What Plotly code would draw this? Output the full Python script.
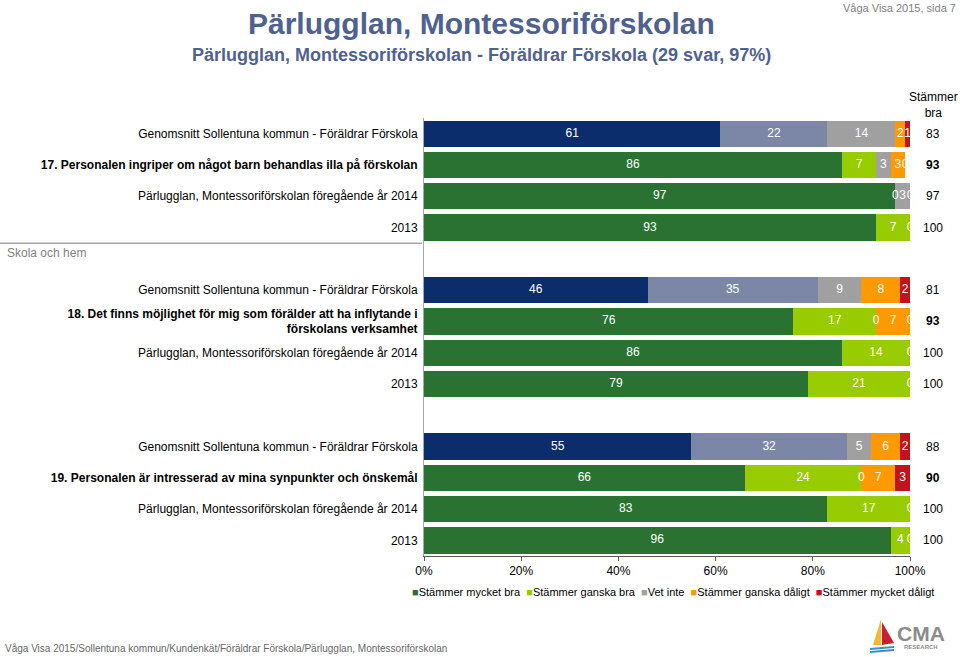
import plotly.graph_objects as go

# ---------------- data ----------------
row_keys = ["q17_avg", "q17_cur", "q17_2014", "q17_2013",
            "q18_avg", "q18_cur", "q18_2014", "q18_2013",
            "q19_avg", "q19_cur", "q19_2014", "q19_2013"]
row_labels = [
    "Genomsnitt Sollentuna kommun - Föräldrar Förskola",
    "<b>17. Personalen ingriper om något barn behandlas illa på förskolan</b>",
    "Pärlugglan, Montessoriförskolan föregående år 2014",
    "2013",
    "Genomsnitt Sollentuna kommun - Föräldrar Förskola",
    "<b>18. Det finns möjlighet för mig som förälder att ha inflytande i<br>förskolans verksamhet</b>",
    "Pärlugglan, Montessoriförskolan föregående år 2014",
    "2013",
    "Genomsnitt Sollentuna kommun - Föräldrar Förskola",
    "<b>19. Personalen är intresserad av mina synpunkter och önskemål</b>",
    "Pärlugglan, Montessoriförskolan föregående år 2014",
    "2013",
]
avg_rows = [0, 4, 8]
cur_rows = [1, 5, 9]
gap_after = {3: "gap1", 7: "gap2"}

series_names = ["Stämmer mycket bra", "Stämmer ganska bra", "Vet inte",
                "Stämmer ganska dåligt", "Stämmer mycket dåligt"]
mycket_bra = [61, 86, 97, 93, 46, 76, 86, 79, 55, 66, 83, 96]
ganska_bra = [22, 7, 0, 7, 35, 17, 14, 21, 32, 24, 17, 4]
vet_inte = [14, 3, 3, 0, 9, 0, 0, 0, 5, 0, 0, 0]
ganska_daligt = [2, 3, 0, None, 8, 7, None, None, 6, 7, None, None]
mycket_daligt = [1, 0, None, None, 2, 0, None, None, 2, 3, None, None]
stammer_bra = [83, 93, 97, 100, 81, 93, 100, 100, 88, 90, 100, 100]
x_ticks = [0, 20, 40, 60, 80, 100]
x_tick_labels = ["0%", "20%", "40%", "60%", "80%", "100%"]

series = [mycket_bra, ganska_bra, vet_inte, ganska_daligt, mycket_daligt]
colors = ["#2a7231", "#99cc00", "#a0a0a0", "#ff9900", "#c0141c"]
avg_colors = ["#0b2d6b", "#7c87a8", "#a0a0a0", "#ff9900", "#c0141c"]

# ---------------- layout geometry ----------------
W, H = 960, 657
L, R, T, B = 424, 50, 118, 101
pw, ph = W - L - R, H - T - B


def px(x):
    return (x - L) / pw


def py(y):
    return (H - B - y) / ph


FONT = "Liberation Sans, Arial, sans-serif"

category_order = []
for i, k in enumerate(row_keys):
    category_order.append(k)
    if i in gap_after:
        category_order.append(gap_after[i])
tick_text = []
for c in category_order:
    if c in row_keys:
        tick_text.append(row_labels[row_keys.index(c)])
    else:
        tick_text.append("")

fig = go.Figure()

school_idx = [i for i in range(len(row_keys)) if i not in avg_rows]
for s, (name, vals) in enumerate(zip(series_names, series)):
    fig.add_trace(go.Bar(
        y=[row_keys[i] for i in school_idx],
        x=[vals[i] if vals[i] is not None else 0 for i in school_idx],
        orientation="h", name=name, marker=dict(color=colors[s], line_width=0),
        showlegend=False, hoverinfo="x+name",
    ))
for s, (name, vals) in enumerate(zip(series_names, series)):
    fig.add_trace(go.Bar(
        y=[row_keys[i] for i in avg_rows],
        x=[vals[i] if vals[i] is not None else 0 for i in avg_rows],
        orientation="h", name=name, marker=dict(color=avg_colors[s], line_width=0),
        showlegend=False, hoverinfo="x+name",
    ))

# value labels at segment centres
lx, ly, lt = [], [], []
for i, k in enumerate(row_keys):
    cum = 0
    for vals in series:
        v = vals[i]
        if v is None:
            continue
        lx.append(cum + v / 2)
        ly.append(k)
        lt.append(str(v))
        cum += v
fig.add_trace(go.Scatter(
    x=lx, y=ly, text=lt, mode="text", showlegend=False, hoverinfo="skip",
    textfont=dict(color="white", size=12, family=FONT), cliponaxis=False,
))

annotations = []
# Stämmer bra column
annotations.append(dict(xref="paper", yref="paper", x=px(933), y=py(105),
                        text="Stämmer<br>bra", showarrow=False,
                        font=dict(size=12, color="#000", family=FONT),
                        xanchor="center", yanchor="middle"))
for i, k in enumerate(row_keys):
    txt = str(stammer_bra[i])
    if i in cur_rows:
        txt = "<b>" + txt + "</b>"
    annotations.append(dict(xref="paper", yref="y", x=px(933), y=k, text=txt,
                            showarrow=False, xanchor="center",
                            font=dict(size=12, color="#000", family=FONT)))

# group label
annotations.append(dict(xref="paper", yref="y", x=px(5), y=3.5, yshift=-1,
                        text="Skola och hem", showarrow=False,
                        xanchor="left", yanchor="top",
                        font=dict(size=12, color="#7f7f7f", family=FONT)))

# titles
annotations += [
    dict(xref="paper", yref="paper", x=px(481), y=py(24),
         text="<b>Pärlugglan, Montessoriförskolan</b>", showarrow=False,
         font=dict(size=30, color="#4f6190", family=FONT), xanchor="center", yanchor="middle"),
    dict(xref="paper", yref="paper", x=px(481), y=py(55),
         text="<b>Pärlugglan, Montessoriförskolan - Föräldrar Förskola (29 svar, 97%)</b>",
         showarrow=False, font=dict(size=18, color="#4f6190", family=FONT),
         xanchor="center", yanchor="middle"),
    dict(xref="paper", yref="paper", x=px(958), y=py(8),
         text="Våga Visa 2015, sida 7", showarrow=False,
         font=dict(size=11, color="#808080", family=FONT), xanchor="right", yanchor="middle"),
    dict(xref="paper", yref="paper", x=px(3), y=py(648),
         text="Våga Visa 2015/Sollentuna kommun/Kundenkät/Föräldrar Förskola/Pärlugglan, Montessoriförskolan",
         showarrow=False, font=dict(size=10, color="#666666", family=FONT),
         xanchor="left", yanchor="middle"),
]

# legend (compact, Excel-like)
leg_parts = []
for name, c in zip(series_names, colors):
    leg_parts.append(f"<span style='color:{c}'>■</span>{name}")
annotations.append(dict(xref="paper", yref="paper", x=px(673), y=py(592),
                        text="  ".join(leg_parts), showarrow=False,
                        font=dict(size=11, color="#000", family=FONT),
                        xanchor="center", yanchor="middle"))

# CMA logo
annotations += [
    dict(xref="paper", yref="paper", x=px(921), y=py(633), text="<b>CMA</b>",
         showarrow=False, font=dict(size=21, color="#8c8c8c", family=FONT),
         xanchor="center", yanchor="middle"),
    dict(xref="paper", yref="paper", x=px(921), y=py(647), text="<b>RESEARCH</b>",
         showarrow=False, font=dict(size=6, color="#8c8c8c", family=FONT),
         xanchor="center", yanchor="middle"),
]


def path(pts):
    return "M " + " L ".join(f"{px(a)},{py(b)}" for a, b in pts) + " Z"


shapes = [
    dict(type="line", xref="paper", yref="y", x0=px(0), x1=px(L - 2), y0=3.5, y1=3.5,
         line=dict(color="#a6a6a6", width=1.5)),
    dict(type="path", xref="paper", yref="paper",
         path=path([(881, 619), (873, 645), (881, 645)]),
         fillcolor="#f2b92a", line_width=0),
    dict(type="path", xref="paper", yref="paper",
         path=path([(882, 622), (894, 643), (882, 645)]),
         fillcolor="#c8202f", line_width=0),
    dict(type="path", xref="paper", yref="paper",
         path=path([(870, 648), (894, 646), (894, 648), (870, 650)]),
         fillcolor="#3a8fd0", line_width=0),
    dict(type="path", xref="paper", yref="paper",
         path=path([(870, 651), (894, 649), (894, 651), (870, 653)]),
         fillcolor="#3a8fd0", line_width=0),
]

n_cat = len(category_order)
fig.update_layout(
    width=W, height=H, barmode="stack", bargap=0.16,
    margin=dict(l=L, r=R, t=T, b=B, pad=0),
    paper_bgcolor="white", plot_bgcolor="white",
    font=dict(family=FONT, size=12, color="#000"),
    showlegend=False,
    annotations=annotations, shapes=shapes,
    xaxis=dict(range=[0, 100], tickvals=x_ticks, ticktext=x_tick_labels, showgrid=False,
               zeroline=False, showline=True, linecolor="#595959", linewidth=1,
               ticks="outside", ticklen=4, tickcolor="#595959",
               tickfont=dict(size=12, color="#000", family=FONT), fixedrange=True),
    yaxis=dict(type="category", categoryorder="array", categoryarray=category_order,
               tickvals=category_order, ticktext=tick_text,
               range=[n_cat - 0.5, -0.5], showgrid=False, zeroline=False,
               showline=True, linecolor="#a6a6a6", linewidth=1, ticks="",
               ticklabelstandoff=3,
               tickfont=dict(size=12, color="#000", family=FONT), fixedrange=True),
)

fig.write_html("out.html", config={"displayModeBar": False},
               post_script="document.body.style.margin='0';")
